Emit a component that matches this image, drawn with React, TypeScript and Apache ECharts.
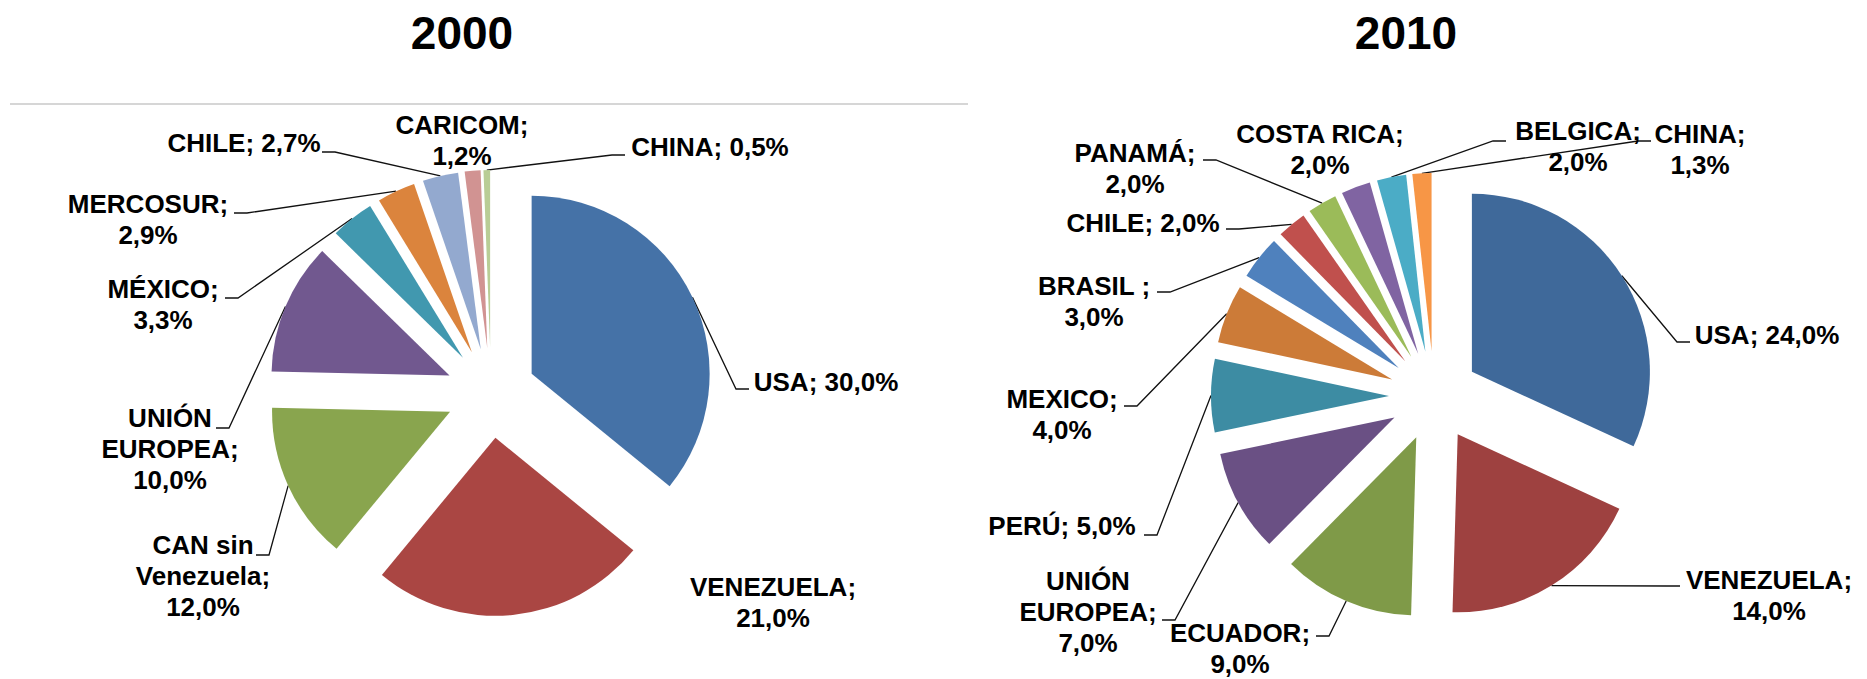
import React, { useEffect, useRef } from 'react';
import * as echarts from 'echarts';

// ---------- data ----------
const categories2000 = ['USA', 'VENEZUELA', 'CAN sin Venezuela', 'UNIÓN EUROPEA', 'MÉXICO', 'MERCOSUR', 'CHILE', 'CARICOM', 'CHINA'];
const values2000 = [30.0, 21.0, 12.0, 10.0, 3.3, 2.9, 2.7, 1.2, 0.5];
const labelNames2000 = ['USA', 'VENEZUELA', 'CAN sin\nVenezuela', 'UNIÓN\nEUROPEA', 'MÉXICO', 'MERCOSUR', 'CHILE', 'CARICOM', 'CHINA'];
const labelSep2000 = ['; ', ';\n', ';\n', ';\n', ';\n', ';\n', '; ', ';\n', '; '];
const colors2000 = ['#4572A7', '#AA4643', '#89A54E', '#71588F', '#4198AF', '#DB843D', '#93A9CF', '#D19392', '#B9CD96'];

const categories2010 = ['USA', 'VENEZUELA', 'ECUADOR', 'UNIÓN EUROPEA', 'PERÚ', 'MEXICO', 'BRASIL ', 'CHILE', 'PANAMÁ', 'COSTA RICA', 'BELGICA', 'CHINA'];
const values2010 = [24.0, 14.0, 9.0, 7.0, 5.0, 4.0, 3.0, 2.0, 2.0, 2.0, 2.0, 1.3];
const labelNames2010 = ['USA', 'VENEZUELA', 'ECUADOR', 'UNIÓN\nEUROPEA', 'PERÚ', 'MEXICO', 'BRASIL ', 'CHILE', 'PANAMÁ', 'COSTA RICA', 'BELGICA', 'CHINA'];
const labelSep2010 = ['; ', ';\n', ';\n', ';\n', '; ', ';\n', ';\n', '; ', ';\n', ';\n', ';\n', ';\n'];
const colors2010 = ['#3F699A', '#9E4140', '#7F9A48', '#6A5084', '#3D8CA3', '#CC7B38', '#4F81BD', '#C0504D', '#9BBB59', '#8064A2', '#4BACC6', '#F79646'];

const titles = ['2000', '2010'];

// ---------- layout (label placement, leader ends) ----------
const labelPos2000 = [[826, 382], [773, 602], [203, 576], [170, 449], [163, 304], [148, 219], [244, 143], [462, 140], [710, 147]];
const leaderEnd2000: (number[] | null)[] = [[749, 389], null, [256, 555], [216, 428], [225, 298], [234, 213], [322, 152], null, [625, 155]];
const labelPos2010 = [[1767, 335], [1769, 595], [1240, 648], [1088, 612], [1062, 526], [1062, 414], [1094, 301], [1143, 223], [1135, 168], [1320, 149], [1578, 146], [1700, 149]];
const leaderEnd2010: (number[] | null)[] = [[1690, 342], [1680, 586], [1316, 636], [1162, 620], [1144, 535], [1124, 406], [1157, 292], [1226, 229], [1203, 160], null, [1506, 141], [1651, 141]];

const CENTER_2000 = [491, 393];
const CENTER_2010 = [1434, 396];
const RADIUS = 178;
const OFFSET = 45;
const FONT = '"Liberation Sans", Arial, Helvetica, sans-serif';

function midAngles(values: number[]) {
  const total = values.reduce((a, b) => a + b, 0);
  let acc = 0;
  return values.map((v) => {
    const start = acc;
    acc += (v / total) * 360;
    return (start + acc) / 2;
  });
}

const fmt = (v: number) => v.toFixed(1).replace('.', ',') + '%';

function makeLayout(values: number[], pos: number[][], ends: (number[] | null)[]) {
  const mids = midAngles(values);
  return (params: any) => {
    const i = params.dataIndex;
    const a = (mids[i] * Math.PI) / 180;
    // the visible slice is pushed out along its mid-angle by OFFSET
    const dx = Math.sin(a) * OFFSET;
    const dy = -Math.cos(a) * OFFSET;
    const [lx, ly] = pos[i];
    const res: any = { x: lx, y: ly, align: 'center', verticalAlign: 'middle' };
    const end = ends[i];
    const pts = params.labelLinePoints;
    if (end && pts && pts.length) {
      const p0 = [pts[0][0] + dx, pts[0][1] + dy];
      const sign = p0[0] > end[0] ? 1 : -1;
      res.labelLinePoints = [p0, [end[0] + sign * 13, end[1]], [end[0], end[1]]];
    }
    return res;
  };
}

function makeSlices(cats: string[], values: number[], colors: string[], center: number[]) {
  return {
    type: 'pie',
    center,
    radius: [0, RADIUS],
    startAngle: 90,
    clockwise: true,
    selectedMode: 'multiple',
    selectedOffset: OFFSET,
    emphasis: { disabled: true },
    label: { show: false },
    labelLine: { show: false },
    itemStyle: { borderWidth: 0 },
    data: cats.map((c, i) => ({
      name: c,
      value: values[i],
      selected: true,
      itemStyle: { color: colors[i] },
      select: { itemStyle: { color: colors[i], borderWidth: 0 } },
    })),
  };
}

function makeLabels(
  cats: string[], values: number[], names: string[], seps: string[],
  center: number[], pos: number[][], ends: (number[] | null)[]
) {
  return {
    type: 'pie',
    center,
    radius: [0, RADIUS],
    startAngle: 90,
    clockwise: true,
    silent: true,
    selectedMode: false,
    avoidLabelOverlap: false,
    emphasis: { disabled: true },
    itemStyle: { color: 'rgba(0,0,0,0)', borderWidth: 0 },
    label: {
      show: true,
      position: 'outside',
      color: '#000',
      fontFamily: FONT,
      fontWeight: 'bold',
      fontSize: 26,
      lineHeight: 31,
      align: 'center',
      formatter: (p: any) => names[p.dataIndex] + seps[p.dataIndex] + fmt(values[p.dataIndex]),
    },
    labelLine: { show: true, length: 10, length2: 10, lineStyle: { color: '#111', width: 1.3 } },
    labelLayout: makeLayout(values, pos, ends),
    data: cats.map((c, i) => ({
      name: c,
      value: values[i],
      labelLine: { show: ends[i] != null },
    })),
  };
}

export default function App() {
  const ref = useRef<HTMLDivElement>(null);
  useEffect(() => {
    if (!ref.current) return;
    const chart = echarts.init(ref.current, null, { renderer: 'svg' });
    chart.setOption({
      animation: false,
      backgroundColor: '#ffffff',
      graphic: [
        {
          type: 'line',
          shape: { x1: 10, y1: 104, x2: 968, y2: 104 },
          style: { stroke: '#c8c8c8', lineWidth: 1.5 },
          silent: true,
        },
        {
          type: 'text', x: 462, y: 33,
          style: { text: titles[0], fill: '#000', fontSize: 46, fontWeight: 'bold', fontFamily: FONT, align: 'center', verticalAlign: 'middle' },
        },
        {
          type: 'text', x: 1406, y: 33,
          style: { text: titles[1], fill: '#000', fontSize: 46, fontWeight: 'bold', fontFamily: FONT, align: 'center', verticalAlign: 'middle' },
        },
      ],
      series: [
        makeSlices(categories2000, values2000, colors2000, CENTER_2000),
        makeSlices(categories2010, values2010, colors2010, CENTER_2010),
        makeLabels(categories2000, values2000, labelNames2000, labelSep2000, CENTER_2000, labelPos2000, leaderEnd2000),
        makeLabels(categories2010, values2010, labelNames2010, labelSep2010, CENTER_2010, labelPos2010, leaderEnd2010),
      ],
    });
    return () => chart.dispose();
  }, []);
  return (
    <div
      ref={ref}
      style={{ position: 'absolute', left: 0, top: 0, width: 1867, height: 679, background: '#fff' }}
    />
  );
}
